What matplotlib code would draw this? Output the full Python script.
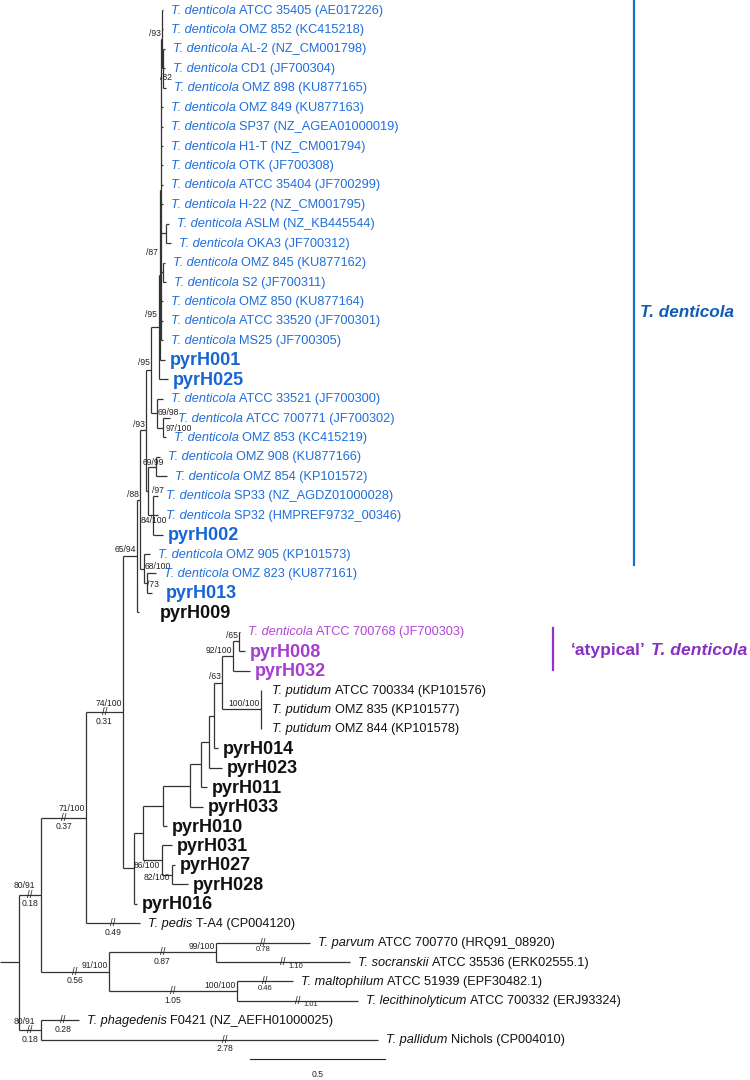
import matplotlib.pyplot as plt
from matplotlib.transforms import offset_copy

plt.rcParams['font.family'] = ['Liberation Sans', 'DejaVu Sans']

# ---- tips, top to bottom ----
tip_species = ['T. denticola'] * 18 + ['', ''] + ['T. denticola'] * 7 + [''] + \
    ['T. denticola'] * 2 + ['', '', 'T. denticola', '', ''] + ['T. putidum'] * 3 + [''] * 9 + \
    ['T. pedis', 'T. parvum', 'T. socranskii', 'T. maltophilum',
     'T. lecithinolyticum', 'T. phagedenis', 'T. pallidum']

tip_strain = [
    'ATCC 35405 (AE017226)', 'OMZ 852 (KC415218)', 'AL-2 (NZ_CM001798)', 'CD1 (JF700304)',
    'OMZ 898 (KU877165)', 'OMZ 849 (KU877163)', 'SP37 (NZ_AGEA01000019)', 'H1-T (NZ_CM001794)',
    'OTK (JF700308)', 'ATCC 35404 (JF700299)', 'H-22 (NZ_CM001795)', 'ASLM (NZ_KB445544)',
    'OKA3 (JF700312)', 'OMZ 845 (KU877162)', 'S2 (JF700311)', 'OMZ 850 (KU877164)',
    'ATCC 33520 (JF700301)', 'MS25 (JF700305)', 'pyrH001', 'pyrH025',
    'ATCC 33521 (JF700300)', 'ATCC 700771 (JF700302)', 'OMZ 853 (KC415219)', 'OMZ 908 (KU877166)',
    'OMZ 854 (KP101572)', 'SP33 (NZ_AGDZ01000028)', 'SP32 (HMPREF9732_00346)', 'pyrH002',
    'OMZ 905 (KP101573)', 'OMZ 823 (KU877161)', 'pyrH013', 'pyrH009',
    'ATCC 700768 (JF700303)', 'pyrH008', 'pyrH032',
    'ATCC 700334 (KP101576)', 'OMZ 835 (KP101577)', 'OMZ 844 (KP101578)',
    'pyrH014', 'pyrH023', 'pyrH011', 'pyrH033', 'pyrH010', 'pyrH031', 'pyrH027', 'pyrH028', 'pyrH016',
    'T-A4 (CP004120)', 'ATCC 700770 (HRQ91_08920)', 'ATCC 35536 (ERK02555.1)',
    'ATCC 51939 (EPF30482.1)', 'ATCC 700332 (ERJ93324)', 'F0421 (NZ_AEFH01000025)',
    'Nichols (CP004010)']

tip_group = ['td'] * 31 + ['other'] + ['atyp'] * 3 + ['other'] * 19

# depth of each tip (drawing units; long branches are broken, see 'broken')
tip_depth = [163, 163, 165, 165, 166, 163, 163, 163, 163, 163, 163, 169, 171, 165, 166, 163, 163, 163, 165, 168,
             163, 170, 166, 160, 167, 158, 158, 163, 150, 156, 152, 139,
             240, 245, 250, 261, 261, 261,
             218, 222, 207, 203, 167, 172, 175, 188, 137,
             140, 310, 350, 293, 358, 79, 378]

# internal nodes: name -> (depth, children, support)
nodes = {
    'T82': (163, [2, 3, 4], '/82'),
    'T93': (161.5, [0, 1, 'T82'], '/93'),
    'AO': (166, [11, 12], ''),
    'OS': (163, [13, 14], ''),
    'Z': (160.5, ['T93', 5, 6, 7, 8, 9, 10, 'AO', 'OS', 15, 16, 17], ''),
    'X2': (159.5, ['Z', 18], '/87'),
    'X1': (158.5, ['X2', 19], '/95'),
    'S1': (163, [21, 22], '97/100'),
    'S2': (157, [20, 'S1'], '69/98'),
    'S3': (151, ['X1', 'S2'], '/95'),
    'R1': (156, [23, 24], '69/99'),
    'R2': (153, [25, 26, 27], '84/100'),
    'R': (148, ['R1', 'R2'], '/97'),
    'N': (146, ['S3', 'R'], '/93'),
    'P': (147, [29, 30], '/73'),
    'O': (144, [28, 'P'], '68/100'),
    'M': (140, ['N', 'O'], '/88'),
    'L': (137, ['M', 31], '65/94'),
    'P65': (239, [32, 33], '/65'),
    'PU': (233, ['P65', 34], '92/100'),
    'PT': (261, [35, 36, 37], '100/100'),
    'J6': (222, ['PU', 'PT'], '/63'),
    'J5': (214, ['J6', 38], ''),
    'J4': (209, ['J5', 39], ''),
    'J3': (201, ['J4', 40], ''),
    'J2': (190, ['J3', 41], ''),
    'J1': (163, ['J2', 42], ''),
    'K2': (172, [44, 45], '82/100'),
    'K': (162, [43, 'K2'], '86/100'),
    'J': (143, ['J1', 'K'], ''),
    'I': (134, ['J', 46], ''),
    'E': (123, ['L', 'I'], '74/100'),
    'B': (86, ['E', 47], '71/100'),
    'F': (216, [48, 49], '99/100'),
    'G': (237, [50, 51], '100/100'),
    'C': (109, ['F', 'G'], '91/100'),
    'A': (41, ['B', 'C'], '80/91'),
    'D': (41, [52, 53], '80/91'),
    'root': (19, ['A', 'D'], ''),
}

# branches drawn shortened, with their true length
broken = {'A': '0.18', 'D': '0.18', 'B': '0.37', 'E': '0.31', 'C': '0.56', 'F': '0.87',
          'G': '1.05', 47: '0.49', 48: '0.78', 49: '1.10', 50: '0.46', 51: '1.01',
          52: '0.28', 53: '2.78'}
break_side = {49: 'right', 51: 'right'}
break_shift = {53: 15, 52: 3}

# support label placement (ha, dx, dy) in pixels, dy down
sup_place = {
    'T82': ('left', -3, 9), 'X2': ('right', -2, -22), 'X1': ('right', -2, -12),
    'S1': ('left', 3, 1), 'S2': ('left', 1, -1), 'S3': ('right', -1, -8),
    'R1': ('center', -3, -4), 'R2': ('center', 1, 5), 'R': ('left', 4, 0),
    'N': ('right', -1, -6), 'P': ('left', 0, 1), 'O': ('left', 1, -2),
    'M': ('right', -1, -5), 'K2': ('right', -2, 3), 'K': ('right', -2, 5),
    'A': ('right', -6, -9), 'D': ('right', -6, -9), 'E': ('right', -1, -9),
    'B': ('right', -1, -9),
}
label_gap_override = {30: 14, 31: 21, 35: 11, 36: 11, 37: 11}

colors = {'td': '#1f6edb', 'atyp': '#b044d6', 'other': '#111111'}
pyr_colors = {'td': '#1666d2', 'atyp': '#a53dcf', 'other': '#111111'}
LINE = dict(color='#333333', lw=0.9, solid_capstyle='butt')
TIP_FS, PYR_FS, SUP_FS = 9.2, 13, 6.2

fig = plt.figure(figsize=(7.5, 10.8), dpi=100)
ax = fig.add_axes([0, 0, 1, 1])
ax.set_xlim(0, 750)
ax.set_ylim(55.07, -0.515)
ax.axis('off')
renderer = fig.canvas.get_renderer()


def tr(dx=0, dy=0):
    return offset_copy(ax.transData, fig=fig, x=dx, y=-dy, units='dots')


ypos = {}


def layout(key):
    if isinstance(key, int):
        ypos[key] = key
        return key
    ys = [layout(k) for k in nodes[key][1]]
    ypos[key] = (ys[0] + ys[-1]) / 2
    return ypos[key]


def depth(key):
    return tip_depth[key] if isinstance(key, int) else nodes[key][0]


def draw(key):
    x, kids, sup = nodes[key]
    ys = [ypos[k] for k in kids]
    ax.plot([x, x], [ys[0], ys[-1]], **LINE)
    for k in kids:
        xe = depth(k)
        ax.plot([x, xe], [ypos[k]] * 2, **LINE)
        if k in broken:
            xm = (x + xe) / 2 + break_shift.get(k, 0)
            ax.text(xm, ypos[k], '//', transform=tr(0, 0), fontsize=7, ha='center',
                    va='center', color='#222222')
            if break_side.get(k) == 'right':
                ax.text(xm, ypos[k], broken[k], transform=tr(13, 4), fontsize=5.5,
                        ha='center', va='center', color='#222222')
            else:
                small = isinstance(k, int) and k in (48, 50)
                ax.text(xm, ypos[k], broken[k], transform=tr(0, 7 if small else 9),
                        fontsize=5.5 if small else SUP_FS, ha='center', va='center', color='#222222')
        if not isinstance(k, int):
            draw(k)
    if sup:
        ha, dx, dy = sup_place.get(key, ('right', -1, -6))
        ax.text(x, ypos[key], sup, transform=tr(dx, dy), fontsize=SUP_FS, ha=ha,
                va='center', color='#222222')


def rich(x, y, parts, fs, dx=0, dy=0):
    off = dx
    base = 0.358 * fs * 100 / 72 - 1
    for txt, style, weight, color in parts:
        t = ax.text(x, y, txt, transform=tr(off, dy + base), fontsize=fs, style=style,
                    weight=weight, color=color, ha='left', va='baseline')
        off += t.get_window_extent(renderer).width + 0.278 * fs * 100 / 72


layout('root')
draw('root')
ax.plot([0, nodes['root'][0]], [ypos['root']] * 2, **LINE)

for i in range(len(tip_strain)):
    grp = tip_group[i]
    if tip_species[i]:
        gap = label_gap_override.get(i, 8)
        rich(tip_depth[i], i, [(tip_species[i], 'italic', 'normal', colors[grp]),
                               (tip_strain[i], 'normal', 'normal', colors[grp])], TIP_FS, dx=gap)
    else:
        gap = label_gap_override.get(i, 5)
        rich(tip_depth[i], i, [(tip_strain[i], 'normal', 'bold', pyr_colors[grp])], PYR_FS, dx=gap)

# clade bars
ax.plot([634, 634], [-0.52, 28.56], color='#1f6ed0', lw=1.6)
rich(640, 15.54, [('T. denticola', 'italic', 'bold', '#0f5cb8')], 12.3)
ax.plot([553, 553], [31.8, 33.97], color='#9333c8', lw=1.6)
rich(571, 32.9, [('\u2018atypical\u2019', 'normal', 'bold', '#8a2fc4'),
                 ('T. denticola', 'italic', 'bold', '#8a2fc4')], 12.6)

# scale bar (0.5 substitutions = 135 drawing units)
SCALE = 0.5
UNITS_PER_SUB = 270
ax.plot([250, 250 + SCALE * UNITS_PER_SUB], [54.0, 54.0], color='#222222', lw=0.8)
ax.text(250 + SCALE * UNITS_PER_SUB / 2, 54.0, '0.5', transform=tr(0, 15), fontsize=6.2,
        ha='center', va='center', color='#222222')

fig.savefig('out.png', dpi=100)
